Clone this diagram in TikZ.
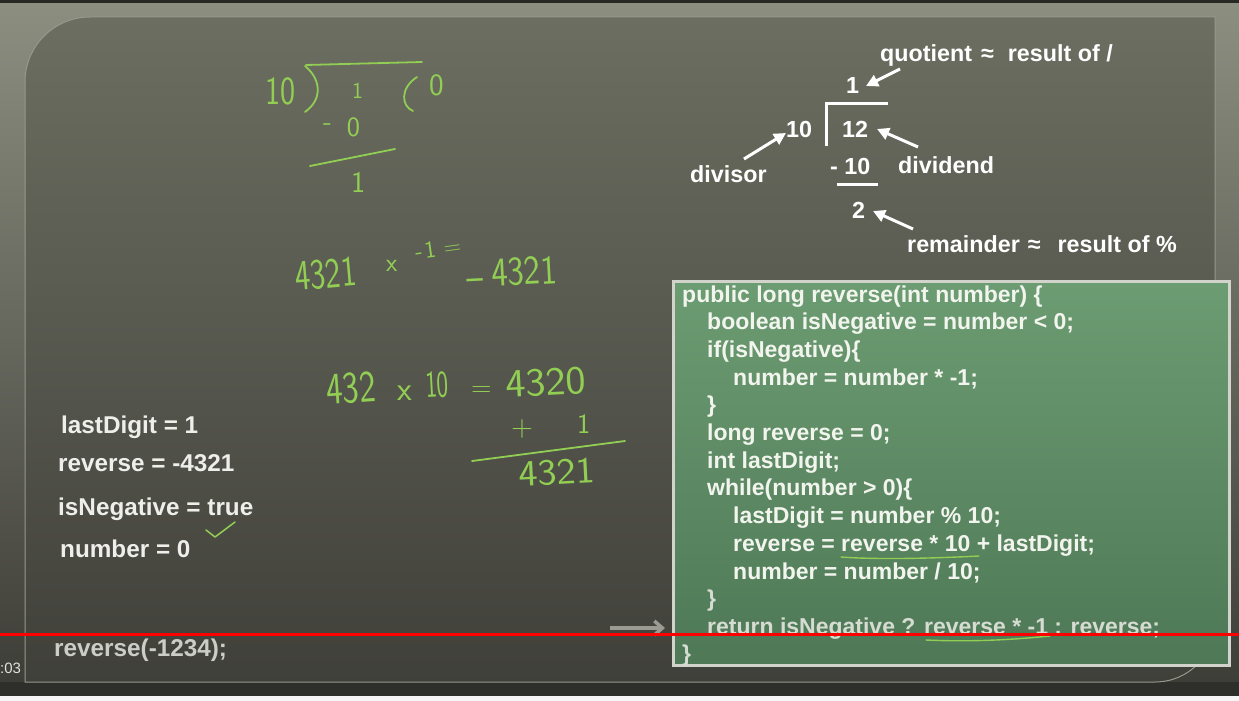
\documentclass[tikz,border=0pt]{standalone}
\usepackage{fontspec}
\setmainfont{Liberation Sans}
\usetikzlibrary{arrows.meta}
\definecolor{frametop}{RGB}{140,142,128}
\definecolor{framebot}{RGB}{62,62,56}
\definecolor{boardtop}{RGB}{108,110,97}
\definecolor{boardbot}{RGB}{64,64,58}
\definecolor{boardedge}{RGB}{150,153,138}
\definecolor{hand}{RGB}{146,206,84}
\definecolor{codetop}{RGB}{108,156,114}
\definecolor{codebot}{RGB}{78,120,86}
\definecolor{codeborder}{RGB}{210,212,204}
\definecolor{codetext}{RGB}{242,244,238}
\definecolor{codedim}{RGB}{214,220,210}
\definecolor{vartext}{RGB}{238,238,234}
\definecolor{callgray}{RGB}{205,205,200}
\definecolor{arrowgray}{RGB}{155,155,148}
\definecolor{pagebg}{RGB}{246,246,246}
\definecolor{topstrip}{RGB}{40,40,38}
\definecolor{bottomstrip}{RGB}{46,46,42}
\definecolor{timegray}{RGB}{225,225,222}
\newcommand\hw[3]{\scalebox{#2}[1]{\fontsize{#1}{#1}\selectfont #3}}
\begin{document}
\begin{tikzpicture}[x=1pt,y=-1pt,
  codeline/.style={anchor=base west, inner sep=0pt, text=codetext, font=\fontsize{23}{23}\selectfont\bfseries},
  lbl/.style={anchor=base west, inner sep=0pt, text=white, font=\fontsize{23.3}{23.3}\selectfont\bfseries},
  var/.style={anchor=base west, inner sep=0pt, text=vartext, font=\fontsize{24.3}{24.3}\selectfont\bfseries},
  hand/.style={anchor=base west, inner sep=0pt, text=hand, font=\sffamily},
  handline/.style={draw=hand, line width=1.8pt, line cap=round, line join=round},
  warrow/.style={draw=white, line width=3pt, -{Triangle[length=12pt,width=12pt]}},
  grayarrow/.style={draw=arrowgray, line width=3.5pt, -{Straight Barb[length=8pt,width=14pt]}},
  codebox/.style={draw=codeborder, line width=3pt, top color=codetop, bottom color=codebot, inner sep=0pt}
]
\useasboundingbox (0,0) rectangle (1239,701);
% background
\fill[pagebg] (0,0) rectangle (1239,701);
\shade[top color=frametop, bottom color=framebot] (0,3) rectangle (1239,682);
\fill[topstrip] (0,0) rectangle (1239,3);
\fill[bottomstrip] (0,682) rectangle (1239,696);
\shadedraw[top color=boardtop, bottom color=boardbot, draw=boardedge, line width=1pt]
  (25,682) -- (25,82) arc[start angle=180,end angle=270,radius=65] -- (1215,17)
  -- (1215,622) arc[start angle=0,end angle=90,radius=60] -- cycle;

% handwriting: top-left division
\node[hand] (h10) at (265,104) {\hw{40}{0.8}{10}};
\draw[handline] (305,66) .. controls (322,80) and (322,100) .. (305,112);
\draw[handline] (306,65) -- (422,62);
\node[hand] (hone) at (352,98) {\hw{23}{1}{1}};
\draw[handline] (417,77) .. controls (400,88) and (401,106) .. (413,111);
\node[hand] (hzero) at (429,95) {\hw{31}{1}{0}};
\node[hand] (hsub) at (323,136) {\hw{28}{1}{\raisebox{6pt}{-}\hspace{15pt}0}};
\draw[handline] (310,166) -- (395,149);
\node[hand] (hres) at (351,192) {\hw{30}{1}{1}};

% handwriting: 4321 x -1 = -4321
\node[hand, rotate=5] (m1) at (296,291) {\hw{43}{0.76}{4321}};
\node[hand] (mx) at (386,271) {\hw{26}{1}{x}};
\node[hand, rotate=8] (mneg) at (416,260) {\hw{24}{1}{-\hspace{2pt}1\hspace{8pt}=}};
\node[hand, rotate=3] (mres) at (467,288) {\hw{41}{0.85}{\raisebox{-4pt}{–}\hspace{10pt}4321}};

% handwriting: 432 x 10 = 4320 + 1 = 4321
\node[hand, rotate=4] (a432) at (327,405) {\hw{45}{0.78}{432}};
\node[hand] (ax) at (397,400) {\hw{34}{1}{x}};
\node[hand, rotate=3] (a10) at (426,398) {\hw{38}{0.65}{10}};
\node[hand] (aeq) at (471,396) {\hw{28}{1}{=}};
\node[hand, rotate=3] (a4320) at (506,398) {\hw{40}{1.07}{4320}};
\node[hand] (aplus) at (511,436) {\hw{30}{1}{+}};
\node[hand] (aone) at (577,433) {\hw{28}{1}{1}};
\draw[handline] (472,461) -- (625,441);
\node[hand, rotate=3] (a4321) at (519,487) {\hw{37}{1.1}{4321}};

% long division labels
\node[lbl] (quot) at (880,62) {quotient\hspace{9pt}≈\hspace{14pt}result of /};
\node[lbl] (qone) at (846,93) {1};
\node[lbl] (divr) at (786,137) {10};
\node[lbl] (dvd) at (842,137) {12};
\node[lbl] (sub) at (830,174) {- 10};
\node[lbl] (rtwo) at (852,218) {2};
\node[lbl] (divisor) at (690,182) {divisor};
\node[lbl] (dividend) at (898,173) {dividend};
\node[lbl] (remainder) at (907,252) {remainder\hspace{8pt}≈\hspace{17pt}result of \%};
\draw[white, line width=3pt] (826,146) -- (826,103) -- (888,103);
\draw[white, line width=3pt] (837,184) -- (878,184);
\coordinate (qtail) at (900,69);   \coordinate (qtip) at (866,86);
\coordinate (dstail) at (744,159); \coordinate (dstip) at (786,133);
\coordinate (ddtail) at (918,147); \coordinate (ddtip) at (877,129);
\coordinate (rtail) at (913,229);  \coordinate (rtip) at (873,211);
\draw[warrow] (qtail) -- (qtip);
\draw[warrow] (dstail) -- (dstip);
\draw[warrow] (ddtail) -- (ddtip);
\draw[warrow] (rtail) -- (rtip);

% variables
\node[var] (v1) at (61,433) {lastDigit = 1};
\node[var] (v2) at (58,471) {reverse = -4321};
\node[var] (v3) at (58,515) {isNegative = true};
\node[var] (v4) at (60,557) {number = 0};
\node[var, text=callgray] (call) at (54,656) {reverse(-1234);};
\draw[handline, line width=1.5pt] (206,530) -- (215,537) -- (235,522);

% code box
\node[codebox, minimum width=556pt, minimum height=384pt] (cb) at (951.5,473.5) {};
\node[codeline] (c1) at (682,302) {public long reverse(int number) \{};
\node[codeline] (c2) at (707,329.7) {boolean isNegative = number < 0;};
\node[codeline] (c3) at (707,357.4) {if(isNegative)\{};
\node[codeline] (c4) at (733,385.1) {number = number * -1;};
\node[codeline] (c5) at (707,412.8) {\}};
\node[codeline] (c6) at (707,440.5) {long reverse = 0;};
\node[codeline] (c7) at (707,468.2) {int lastDigit;};
\node[codeline] (c8) at (707,495.9) {while(number > 0)\{};
\node[codeline] (c9) at (733,523.6) {lastDigit = number \% 10;};
\node[codeline] (c10) at (733,551.3) {reverse = reverse * 10 + lastDigit;};
\node[codeline] (c11) at (733,579) {number = number / 10;};
\node[codeline, text=codedim] (c12) at (707,606.7) {\}};
\node[codeline, text=codedim] (c13) at (707,634.4) {return isNegative ? reverse * -1 : reverse;};
\node[codeline, text=codedim] (c14) at (682,661) {\}};
\draw[handline, line width=1.4pt] (841,557) .. controls (880,560) and (940,558) .. (979,556);
\draw[handline, line width=1.4pt] (926,640) .. controls (970,642) and (1010,640) .. (1050,636);

% pointer arrow
\coordinate (ga) at (610,628);
\draw[grayarrow, shorten >=7pt] (ga) -- (cb.west |- ga);

% player overlay
\draw[red, line width=3pt] (0,634.5) -- (1239,634.5);
\node[anchor=base west, inner sep=0pt, text=timegray, font=\fontsize{15}{15}\selectfont] (time) at (0,673) {:03};
\end{tikzpicture}
\end{document}
